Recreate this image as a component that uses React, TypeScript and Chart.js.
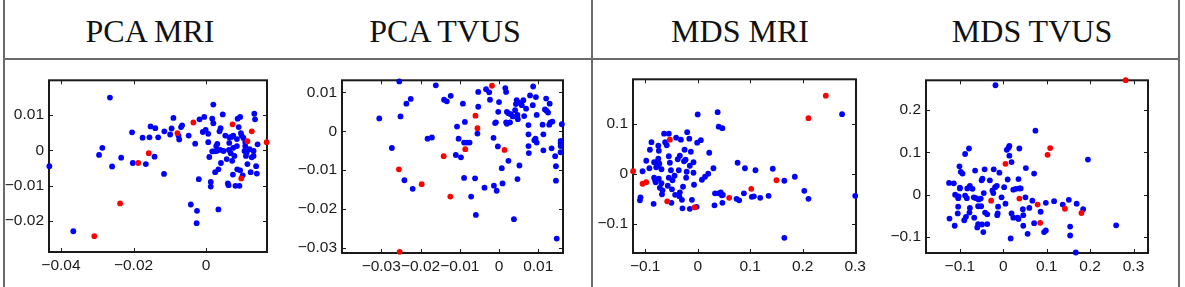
import React, { useEffect, useRef } from 'react';
import { Chart, registerables } from 'chart.js';

Chart.register(...registerables);

type Pt = [number, number];

// Column headings of the comparison table
const panelTitles = ['PCA MRI', 'PCA TVUS', 'MDS MRI', 'MDS TVUS'];

// ---- PCA on MRI features ----
const pcaMriOther: Pt[] = [
  [-0.0265, 0.015], [-0.0432, -0.0045], [-0.0295, -0.0013], [-0.0286, 0.0007], [-0.0259, -0.0046],
  [-0.0366, -0.023], [-0.0234, -0.0021], [-0.0204, 0.0051], [-0.0202, -0.0036], [-0.0175, 0.0036],
  [-0.0166, -0.0039], [-0.0156, 0.0037], [-0.0153, 0.0068], [-0.014, 0.0063], [-0.0142, -0.0018],
  [-0.0132, 0.0037], [-0.0115, 0.0054], [-0.0116, -0.0067], [-0.0099, 0.0045], [-0.0095, 0.0062],
  [-0.009, 0.0092], [-0.0076, 0.0042], [-0.0074, 0.0031], [-0.0069, 0.0066], [-0.0066, 0.0071],
  [-0.0048, 0.0042], [-0.0042, -0.0154], [-0.003, 0.0019], [-0.0025, -0.0172], [-0.0026, -0.0207],
  [-0.002, -0.0082], [-0.0018, 0.0088], [-0.0009, 0.0052], [-0.0005, 0.0095], [-0.0001, 0.0058],
  [0.0006, 0.0023], [0.0009, -0.0019], [0.0013, -0.009], [0.0013, -0.0103], [0.0017, 0.009],
  [0.002, 0.013], [0.002, 0.0077], [0.0017, -0.0003], [0.0022, -0.0003], [0.0025, -0.0062],
  [0.0028, 0.0012], [0.0029, -0.0002], [0.0031, 0.0018], [0.0034, -0.0168], [0.0034, -0.0054],
  [0.0037, 0.0054], [0.004, 0.0063], [0.0041, -0.0036], [0.0046, 0.0102], [0.0048, -0.0002],
  [0.0053, 0.0042], [0.0057, -0.0025], [0.006, -0.0094], [0.0062, -0.0099], [0.0063, 0.0001],
  [0.0064, 0.0037], [0.0064, 0.0021], [0.0068, -0.0008], [0.007, 0.0038], [0.0072, -0.003],
  [0.0074, -0.0069], [0.0075, 0.0042], [0.0075, 0.0007], [0.0078, -0.0016], [0.0081, -0.0101],
  [0.0085, 0.0032], [0.0087, 0.009], [0.009, 0.0066], [0.0092, -0.0101], [0.0094, 0.0095],
  [0.0096, 0.0049], [0.0094, -0.0057], [0.0086, -0.0054], [0.0098, 0.0042], [0.0101, -0.0071],
  [0.0103, 0.0035], [0.0106, -0.0002], [0.0108, 0.0012], [0.011, -0.0016], [0.0112, -0.0006],
  [0.0114, -0.0039], [0.012, 0.0003], [0.0123, -0.0062], [0.0126, -0.002], [0.0131, -0.0002],
  [0.0133, 0.0104], [0.0135, 0.0088], [0.0138, -0.0045], [0.014, -0.0066], [0.0142, 0.0017],
  [0.0131, -0.0016], [0.0108, 0.0023], [0.0085, 0.0012], [0.0039, 0.0001], [0.0006, 0.0047],
];
const pcaMriMarked: Pt[] = [
  [-0.0308, -0.0244], [-0.0237, -0.0151], [-0.0187, -0.0036], [-0.0158, -0.0008], [-0.0079, 0.0049],
  [-0.0035, 0.0079], [0.0073, 0.0074], [0.0097, -0.008], [0.0114, 0.0026], [0.0126, 0.0054],
  [0.0167, 0.0023],
];
const pcaMriXTicks = [-0.04, -0.02, 0];
const pcaMriYTicks = [-0.02, -0.01, 0, 0.01];

// ---- PCA on TVUS features ----
const pcaTvusOther: Pt[] = [
  [-0.0254, 0.0128], [-0.0305, 0.0033], [-0.0273, -0.0043], [-0.0251, 0.0038], [-0.0241, -0.0126],
  [-0.0236, 0.0071], [-0.0225, 0.0083], [-0.022, -0.0148], [-0.0182, -0.0019], [-0.0171, -0.0016],
  [-0.0161, 0.0118], [-0.014, 0.0081], [-0.0133, 0.0077], [-0.0123, 0.0091], [-0.011, -0.0061],
  [-0.0107, 0.0012], [-0.0103, -0.0019], [-0.0097, -0.0067], [-0.0092, 0.0071], [-0.0089, -0.012],
  [-0.0087, 0.0024], [-0.0089, -0.0029], [-0.0082, -0.0029], [-0.0075, -0.0029], [-0.0071, -0.0168],
  [-0.0061, -0.0121], [-0.0059, -0.0215], [-0.0055, -0.0006], [-0.0053, 0.0063], [-0.0053, 0.0101],
  [-0.0037, -0.0145], [-0.0033, 0.0108], [-0.0025, 0.01], [-0.0023, 0.0081], [-0.0014, -0.0017],
  [-0.0013, -0.014], [-0.001, 0.0021], [-0.0008, 0.0023], [-0.0006, -0.0153], [-0.0003, -0.0039],
  [-0.0002, 0.005], [0.0, 0.0075], [0.0007, -0.0095], [0.0009, -0.0134], [0.0016, 0.0111],
  [0.0018, 0.0101], [0.0018, 0.0023], [0.002, 0.0019], [0.002, 0.005], [0.0024, 0.0046],
  [0.0024, -0.0076], [0.003, 0.0044], [0.0035, 0.0038], [0.0038, -0.0226], [0.0041, 0.0054],
  [0.0043, 0.007], [0.0045, 0.008], [0.0047, 0.0042], [0.0048, 0.0031], [0.0047, -0.0123],
  [0.0052, -0.0088], [0.0052, 0.0073], [0.0058, 0.0067], [0.0062, 0.008], [0.0064, 0.0039],
  [0.0069, 0.0058], [0.0075, 0.0016], [0.0075, -0.0008], [0.0075, -0.0038], [0.0076, -0.0056],
  [0.0079, 0.0092], [0.0086, 0.0067], [0.0087, 0.0115], [0.009, -0.0023], [0.0093, -0.0019],
  [0.0094, 0.0088], [0.0096, 0.0042], [0.0111, 0.0017], [0.0113, -0.0008], [0.0113, -0.0049],
  [0.0117, 0.0056], [0.012, 0.0084], [0.0121, 0.0053], [0.0125, 0.0048], [0.0128, 0.0017],
  [0.0129, 0.0071], [0.0131, 0.0023], [0.0134, -0.0044], [0.0136, 0.0025], [0.0143, -0.0064],
  [0.0145, -0.009], [0.0145, -0.0127], [0.0147, -0.0276], [0.0157, -0.0031], [0.0157, -0.0025],
  [0.0157, -0.0054], [0.016, 0.0018], [0.0157, -0.0038], [0.0096, -0.0029], [0.0028, 0.0023],
];
const pcaTvusMarked: Pt[] = [
  [-0.0255, -0.0098], [-0.0253, -0.031], [-0.0197, -0.0136], [-0.0141, -0.0064], [-0.0124, -0.0168],
  [-0.0086, -0.0046], [-0.006, 0.004], [-0.0055, 0.0008], [-0.0018, 0.0117], [0.0014, -0.0048],
];
const pcaTvusXTicks = [-0.03, -0.02, -0.01, 0, 0.01];
const pcaTvusYTicks = [-0.03, -0.02, -0.01, 0, 0.01];

// ---- MDS on MRI features ----
const mdsMriOther: Pt[] = [
  [0.0, 0.1185], [0.038, 0.123], [0.04, 0.094], [0.047, 0.091], [0.275, 0.119],
  [0.3, -0.044], [0.165, -0.128], [0.185, -0.006], [0.203, -0.034], [0.211, -0.05],
  [0.165, -0.014], [0.143, 0.01], [0.135, -0.044], [0.119, -0.048], [0.11, 0.007],
  [0.107, -0.045], [0.103, -0.046], [0.09, 0.011], [0.088, -0.039], [0.079, -0.053],
  [0.076, 0.022], [0.074, -0.05], [0.047, -0.058], [0.048, -0.042], [0.044, -0.037],
  [0.04, -0.039], [0.046, -0.043], [0.033, -0.039], [0.032, -0.063], [0.03, 0.011],
  [0.02, 0.0], [0.022, 0.042], [0.008, -0.012], [0.006, 0.067], [-0.001, 0.062],
  [-0.002, -0.066], [-0.007, -0.022], [-0.008, 0.002], [-0.011, -0.052], [-0.013, 0.044],
  [-0.015, -0.07], [-0.02, 0.083], [-0.021, 0.004], [-0.022, -0.008], [-0.023, 0.028],
  [-0.025, 0.048], [-0.026, 0.025], [-0.028, -0.026], [-0.029, -0.069], [-0.03, -0.052],
  [-0.034, -0.037], [-0.035, -0.045], [-0.032, 0.068], [-0.036, 0.007], [-0.038, 0.029],
  [-0.041, 0.072], [-0.043, -0.042], [-0.044, -0.004], [-0.048, -0.013], [-0.049, -0.031],
  [-0.05, -0.058], [-0.051, 0.007], [-0.053, 0.022], [-0.055, 0.08], [-0.055, 0.035],
  [-0.055, -0.008], [-0.057, -0.024], [-0.059, 0.057], [-0.062, 0.063], [-0.064, 0.08],
  [-0.067, -0.033], [-0.068, -0.041], [-0.069, 0.009], [-0.069, -0.019], [-0.072, -0.028],
  [-0.073, 0.02], [-0.074, 0.046], [-0.074, -0.01], [-0.075, 0.056], [-0.076, 0.016],
  [-0.078, 0.023], [-0.079, 0.013], [-0.08, -0.017], [-0.081, -0.013], [-0.083, 0.023],
  [-0.084, -0.06], [-0.083, -0.008], [-0.088, 0.063], [-0.091, 0.048], [-0.092, 0.011],
  [-0.098, 0.026], [-0.105, 0.005], [-0.109, -0.047], [-0.11, -0.053], [-0.008, 0.023],
  [0.014, -0.006], [-0.016, 0.07], [-0.034, 0.036], [-0.075, 0.03], [-0.015, 0.016],
];
const mdsMriMarked: Pt[] = [
  [-0.123, 0.005], [-0.105, -0.02], [-0.098, -0.017], [-0.053, 0.068], [-0.058, -0.055],
  [-0.006, -0.067], [0.06, -0.048], [0.102, -0.03], [0.15, -0.013], [0.211, 0.111],
  [0.244, 0.156],
];
const mdsMriXTicks = [-0.1, 0, 0.1, 0.2, 0.3];
const mdsMriYTicks = [-0.1, 0, 0.1];

// ---- MDS on TVUS features ----
const mdsTvusOther: Pt[] = [
  [-0.018, 0.258], [0.074, 0.151], [0.195, 0.083], [0.26, -0.072], [0.167, -0.136],
  [0.154, -0.075], [0.154, -0.096], [0.151, -0.012], [0.169, -0.021], [0.184, -0.034],
  [0.137, -0.023], [0.117, -0.015], [0.098, -0.019], [0.086, -0.04], [0.098, -0.084],
  [0.094, -0.088], [0.071, 0.05], [0.071, -0.067], [0.067, -0.014], [0.06, -0.031],
  [0.052, 0.063], [0.056, -0.092], [0.051, -0.006], [0.046, -0.048], [0.046, -0.073],
  [0.045, -0.034], [0.037, 0.109], [0.037, 0.015], [0.04, 0.015], [0.035, 0.037],
  [0.033, -0.054], [0.035, -0.057], [0.029, 0.014], [0.023, 0.012], [0.019, -0.044],
  [0.019, 0.077], [0.017, -0.103], [0.014, 0.092], [0.014, 0.115], [0.012, 0.111],
  [0.008, 0.106], [0.01, 0.036], [0.005, -0.021], [0.002, 0.018], [-0.009, 0.052],
  [-0.012, -0.028], [-0.014, -0.048], [-0.013, -0.044], [-0.015, 0.021], [-0.019, 0.018],
  [-0.022, 0.06], [-0.025, 0.01], [-0.023, 0.004], [-0.037, -0.069], [-0.037, -0.046],
  [-0.043, 0.06], [-0.042, -0.042], [-0.045, 0.004], [-0.048, 0.038], [-0.05, 0.034],
  [-0.046, -0.088], [-0.049, -0.07], [-0.052, -0.009], [-0.057, -0.011], [-0.058, -0.069],
  [-0.06, -0.077], [-0.063, -0.008], [-0.065, 0.057], [-0.067, -0.054], [-0.068, -0.006],
  [-0.071, 0.014], [-0.077, 0.021], [-0.078, -0.042], [-0.079, 0.109], [-0.083, 0.015],
  [-0.086, -0.052], [-0.088, -0.002], [-0.09, -0.06], [-0.088, 0.096], [-0.094, 0.05],
  [-0.098, 0.054], [-0.1, 0.015], [-0.101, 0.067], [-0.103, -0.004], [-0.104, -0.008],
  [-0.104, -0.028], [-0.111, 0.0], [-0.114, 0.027], [-0.112, -0.073], [-0.125, 0.028],
  [-0.124, -0.056], [-0.105, -0.044], [-0.058, -0.027], [-0.031, 0.034], [-0.084, -0.008],
  [-0.051, -0.027], [0.023, -0.054], [-0.004, -0.006], [-0.077, -0.031], [-0.1, 0.017],
];
const mdsTvusMarked: Pt[] = [
  [0.282, 0.27], [0.108, 0.11], [0.102, 0.094], [0.005, 0.073], [-0.028, -0.014],
  [0.037, -0.009], [0.079, -0.023], [0.085, -0.066], [0.142, -0.033], [0.18, -0.043],
];
const mdsTvusXTicks = [-0.1, 0, 0.1, 0.2, 0.3];
const mdsTvusYTicks = [-0.1, 0, 0.1, 0.2];

// Axis limits of each panel
const pcaMriXRange: Pt = [-0.0433, 0.0168];
const pcaMriYRange: Pt = [-0.0289, 0.0199];
const pcaTvusXRange: Pt = [-0.04, 0.0163];
const pcaTvusYRange: Pt = [-0.0313, 0.0131];
const mdsMriXRange: Pt = [-0.1232, 0.3015];
const mdsMriYRange: Pt = [-0.1583, 0.1887];
const mdsTvusXRange: Pt = [-0.1781, 0.3334];
const mdsTvusYRange: Pt = [-0.1372, 0.2697];

const TICK_FONT = { family: "'Liberation Sans', Arial, Helvetica, sans-serif", size: 15.5 };
const PAD_L = 60;
const PAD_T = 10;
const PAD_R = 25;
const PAD_B = 35;

const fmtTick = (v: number) => {
  if (Math.abs(v) < 1e-12) return '0';
  const s = String(Math.abs(+v.toFixed(4)));
  return (v < 0 ? '\u2212' : '') + s;
};

// Draws a closed axes box with inward-pointing ticks on all four sides
const boxPlugin = {
  id: 'boxedAxes',
  beforeDatasetsDraw(chart: any) {
    const { ctx, chartArea: a, scales } = chart;
    const tl = 4;
    ctx.save();
    ctx.strokeStyle = '#1a1a1a';
    ctx.lineWidth = 1;
    ctx.beginPath();
    for (const t of scales.x.ticks) {
      const px = Math.round(scales.x.getPixelForValue(t.value)) + 0.5;
      ctx.moveTo(px, a.bottom);
      ctx.lineTo(px, a.bottom - tl);
      ctx.moveTo(px, a.top);
      ctx.lineTo(px, a.top + tl);
    }
    for (const t of scales.y.ticks) {
      const py = Math.round(scales.y.getPixelForValue(t.value)) + 0.5;
      ctx.moveTo(a.left, py);
      ctx.lineTo(a.left + tl, py);
      ctx.moveTo(a.right, py);
      ctx.lineTo(a.right - tl, py);
    }
    ctx.stroke();
    ctx.lineWidth = 2;
    ctx.strokeRect(a.left, a.top, a.right - a.left, a.bottom - a.top);
    ctx.restore();
  },
};

type PanelProps = {
  frame: { left: number; top: number; right: number; bottom: number };
  other: Pt[];
  marked: Pt[];
  xRange: Pt;
  yRange: Pt;
  xTicks: number[];
  yTicks: number[];
};

function ScatterPanel({ frame, other, marked, xRange, yRange, xTicks, yTicks }: PanelProps) {
  const ref = useRef<HTMLCanvasElement | null>(null);
  const w = frame.right - frame.left + PAD_L + PAD_R;
  const h = frame.bottom - frame.top + PAD_T + PAD_B;

  useEffect(() => {
    if (!ref.current) return;
    const toXY = (p: Pt) => ({ x: p[0], y: p[1] });
    const chart = new Chart(ref.current, {
      type: 'scatter',
      data: {
        datasets: [
          {
            data: marked.map(toXY),
            backgroundColor: '#ff0000',
            borderWidth: 0,
            pointRadius: 2.9,
            clip: false,
          },
          {
            data: other.map(toXY),
            backgroundColor: '#0000ff',
            borderWidth: 0,
            pointRadius: 2.9,
            clip: false,
          },
        ],
      },
      options: {
        animation: false,
        responsive: false,
        maintainAspectRatio: false,
        events: [],
        layout: { padding: { left: 0, top: PAD_T, right: PAD_R, bottom: 0 } },
        plugins: { legend: { display: false }, tooltip: { enabled: false } },
        scales: {
          x: {
            type: 'linear',
            position: 'bottom',
            min: xRange[0],
            max: xRange[1],
            grid: { display: false, drawTicks: false },
            border: { display: false },
            afterBuildTicks: (s: any) => {
              s.ticks = xTicks.map((v) => ({ value: v }));
            },
            afterFit: (s: any) => {
              s.height = PAD_B;
            },
            ticks: {
              autoSkip: false,
              maxRotation: 0,
              minRotation: 0,
              padding: 4,
              color: '#1a1a1a',
              font: TICK_FONT,
              callback: (v: any) => fmtTick(Number(v)),
            },
          },
          y: {
            type: 'linear',
            position: 'left',
            min: yRange[0],
            max: yRange[1],
            grid: { display: false, drawTicks: false },
            border: { display: false },
            afterBuildTicks: (s: any) => {
              s.ticks = yTicks.map((v) => ({ value: v }));
            },
            afterFit: (s: any) => {
              s.width = PAD_L;
            },
            ticks: {
              autoSkip: false,
              padding: 5,
              color: '#1a1a1a',
              font: TICK_FONT,
              callback: (v: any) => fmtTick(Number(v)),
            },
          },
        },
      },
      plugins: [boxPlugin],
    });
    return () => chart.destroy();
  }, []);

  return (
    <canvas
      ref={ref}
      width={w}
      height={h}
      style={{
        position: 'absolute',
        left: frame.left - PAD_L,
        top: frame.top - PAD_T,
        width: w,
        height: h,
        display: 'block',
      }}
    />
  );
}

const lineColor = '#6b6b6b';

export default function App() {
  const titleCenters = [150, 445, 740, 1032];
  return (
    <div
      style={{
        position: 'absolute',
        left: 0,
        top: 0,
        width: 1185,
        height: 287,
        overflow: 'hidden',
        background: '#fff',
      }}
    >
      {/* table rules */}
      <div style={{ position: 'absolute', left: 3, top: 0, width: 2, height: 287, background: lineColor }} />
      <div style={{ position: 'absolute', left: 591, top: 0, width: 2, height: 287, background: lineColor }} />
      <div style={{ position: 'absolute', left: 1178, top: 0, width: 2, height: 287, background: lineColor }} />
      <div style={{ position: 'absolute', left: 3, top: 58, width: 1177, height: 2, background: lineColor }} />

      {panelTitles.map((t, i) => (
        <div
          key={t}
          style={{
            position: 'absolute',
            left: titleCenters[i] - 140,
            width: 280,
            top: 15,
            textAlign: 'center',
            fontFamily: "'Liberation Serif', 'Times New Roman', serif",
            fontSize: 32,
            lineHeight: '32px',
            color: '#111',
            whiteSpace: 'nowrap',
          }}
        >
          {t}
        </div>
      ))}

      <ScatterPanel
        frame={{ left: 49, top: 76, right: 267, bottom: 252 }}
        other={pcaMriOther}
        marked={pcaMriMarked}
        xRange={pcaMriXRange}
        yRange={pcaMriYRange}
        xTicks={pcaMriXTicks}
        yTicks={pcaMriYTicks}
      />
      <ScatterPanel
        frame={{ left: 342, top: 76, right: 563, bottom: 253 }}
        other={pcaTvusOther}
        marked={pcaTvusMarked}
        xRange={pcaTvusXRange}
        yRange={pcaTvusYRange}
        xTicks={pcaTvusXTicks}
        yTicks={pcaTvusYTicks}
      />
      <ScatterPanel
        frame={{ left: 633, top: 75, right: 856, bottom: 253 }}
        other={mdsMriOther}
        marked={mdsMriMarked}
        xRange={mdsMriXRange}
        yRange={mdsMriYRange}
        xTicks={mdsMriXTicks}
        yTicks={mdsMriYTicks}
      />
      <ScatterPanel
        frame={{ left: 926, top: 76, right: 1148, bottom: 253 }}
        other={mdsTvusOther}
        marked={mdsTvusMarked}
        xRange={mdsTvusXRange}
        yRange={mdsTvusYRange}
        xTicks={mdsTvusXTicks}
        yTicks={mdsTvusYTicks}
      />
    </div>
  );
}
